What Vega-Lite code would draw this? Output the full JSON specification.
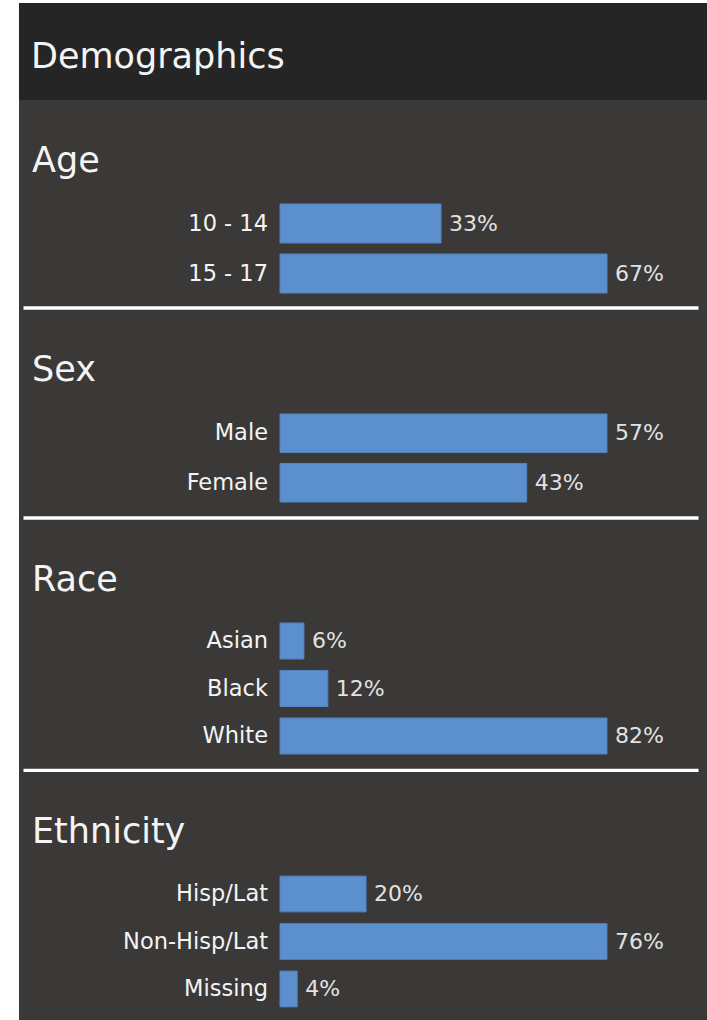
{
  "$schema": "https://vega.github.io/schema/vega-lite/v6.json",
  "background": "#ffffff",
  "padding": {"left": 19, "top": 3, "right": 0, "bottom": 0},
  "spacing": 0,
  "bounds": "flush",
  "config": {
    "view": {"stroke": null, "fill": "#3a3938"},
    "axis": {"labels": false, "ticks": false, "grid": false, "title": null},
    "title": {"font": "DejaVu Sans", "fontSize": 35, "fontWeight": "normal", "color": "#f4f4f4", "anchor": "start", "frame": "group", "baseline": "alphabetic", "dx": 13}
  },
  "data": {
    "values": [
      {"section": "Age", "category": "10 - 14", "pct": 0.33},
      {"section": "Age", "category": "15 - 17", "pct": 0.67},
      {"section": "Sex", "category": "Male", "pct": 0.57},
      {"section": "Sex", "category": "Female", "pct": 0.43},
      {"section": "Race", "category": "Asian", "pct": 0.06},
      {"section": "Race", "category": "Black", "pct": 0.12},
      {"section": "Race", "category": "White", "pct": 0.82},
      {"section": "Ethnicity", "category": "Hisp/Lat", "pct": 0.20},
      {"section": "Ethnicity", "category": "Non-Hisp/Lat", "pct": 0.76},
      {"section": "Ethnicity", "category": "Missing", "pct": 0.04}
    ]
  },
  "vconcat": [
    {
      "data": {"values": []},
      "width": 688,
      "height": 97,
      "view": {"fill": "#262525", "stroke": null},
      "title": {"text": "Demographics", "offset": -72, "dx": 12},
      "mark": "text",
      "encoding": {}
    },
    {
      "width": 688,
      "height": 210,
      "title": {"text": "Age", "offset": -79},
      "transform": [{"filter": "datum.section === 'Age'"}],
      "encoding": {
        "y": {"field": "category", "type": "nominal", "sort": null, "axis": null,
              "scale": {"range": [98.5, 198.5], "paddingInner": 0.22, "paddingOuter": 0.11}}
      },
      "layer": [
        {
          "mark": {"type": "bar", "color": "#5b8fcd", "stroke": "#5283c0", "strokeWidth": 1},
          "encoding": {
            "x": {"field": "pct", "type": "quantitative",
                  "scale": {"domain": [-0.52657, 0.85645], "range": [4, 679], "nice": false, "zero": false},
                  "axis": {"orient": "bottom", "domain": true, "domainColor": "#ffffff", "domainWidth": 3.5, "offset": -2.5}}
          }
        },
        {
          "mark": {"type": "text", "align": "right", "baseline": "middle", "dx": -12, "font": "DejaVu Sans", "fontSize": 22.5, "color": "#f4f4f4"},
          "encoding": {"x": {"datum": 0, "type": "quantitative"}, "text": {"field": "category"}}
        },
        {
          "mark": {"type": "text", "align": "left", "baseline": "middle", "dx": 8, "font": "DejaVu Sans", "fontSize": 22, "color": "#e2e2e2"},
          "encoding": {"x": {"field": "pct", "type": "quantitative"}, "text": {"field": "pct", "format": ".0%"}}
        }
      ]
    },
    {
      "width": 688,
      "height": 210,
      "title": {"text": "Sex", "offset": -78},
      "transform": [{"filter": "datum.section === 'Sex'"}],
      "encoding": {
        "y": {"field": "category", "type": "nominal", "sort": null, "axis": null,
              "scale": {"range": [98.5, 197.5], "paddingInner": 0.22, "paddingOuter": 0.11}}
      },
      "layer": [
        {
          "mark": {"type": "bar", "color": "#5b8fcd", "stroke": "#5283c0", "strokeWidth": 1},
          "encoding": {
            "x": {"field": "pct", "type": "quantitative",
                  "scale": {"domain": [-0.44798, 0.72863], "range": [4, 679], "nice": false, "zero": false},
                  "axis": {"orient": "bottom", "domain": true, "domainColor": "#ffffff", "domainWidth": 3.5, "offset": -2.5}}
          }
        },
        {
          "mark": {"type": "text", "align": "right", "baseline": "middle", "dx": -12, "font": "DejaVu Sans", "fontSize": 22.5, "color": "#f4f4f4"},
          "encoding": {"x": {"datum": 0, "type": "quantitative"}, "text": {"field": "category"}}
        },
        {
          "mark": {"type": "text", "align": "left", "baseline": "middle", "dx": 8, "font": "DejaVu Sans", "fontSize": 22, "color": "#e2e2e2"},
          "encoding": {"x": {"field": "pct", "type": "quantitative"}, "text": {"field": "pct", "format": ".0%"}}
        }
      ]
    },
    {
      "width": 688,
      "height": 252,
      "title": {"text": "Race", "offset": -78},
      "transform": [{"filter": "datum.section === 'Race'"}],
      "encoding": {
        "y": {"field": "category", "type": "nominal", "sort": null, "axis": null,
              "scale": {"range": [97.25, 239.75], "paddingInner": 0.242, "paddingOuter": 0.121}}
      },
      "layer": [
        {
          "mark": {"type": "bar", "color": "#5b8fcd", "stroke": "#5283c0", "strokeWidth": 1},
          "encoding": {
            "x": {"field": "pct", "type": "quantitative",
                  "scale": {"domain": [-0.64446, 1.0482], "range": [4, 679], "nice": false, "zero": false},
                  "axis": {"orient": "bottom", "domain": true, "domainColor": "#ffffff", "domainWidth": 3.5, "offset": -2}}
          }
        },
        {
          "mark": {"type": "text", "align": "right", "baseline": "middle", "dx": -12, "font": "DejaVu Sans", "fontSize": 22.5, "color": "#f4f4f4"},
          "encoding": {"x": {"datum": 0, "type": "quantitative"}, "text": {"field": "category"}}
        },
        {
          "mark": {"type": "text", "align": "left", "baseline": "middle", "dx": 8, "font": "DejaVu Sans", "fontSize": 22, "color": "#e2e2e2"},
          "encoding": {"x": {"field": "pct", "type": "quantitative"}, "text": {"field": "pct", "format": ".0%"}}
        }
      ]
    },
    {
      "width": 688,
      "height": 248,
      "title": {"text": "Ethnicity", "offset": -78},
      "transform": [{"filter": "datum.section === 'Ethnicity'"}],
      "encoding": {
        "y": {"field": "category", "type": "nominal", "sort": null, "axis": null,
              "scale": {"range": [98.25, 240.75], "paddingInner": 0.248, "paddingOuter": 0.124}}
      },
      "layer": [
        {
          "mark": {"type": "bar", "color": "#5b8fcd", "stroke": "#5283c0", "strokeWidth": 1},
          "encoding": {
            "x": {"field": "pct", "type": "quantitative",
                  "scale": {"domain": [-0.59731, 0.9715], "range": [4, 679], "nice": false, "zero": false},
                  "axis": null}
          }
        },
        {
          "mark": {"type": "text", "align": "right", "baseline": "middle", "dx": -12, "font": "DejaVu Sans", "fontSize": 22.5, "color": "#f4f4f4"},
          "encoding": {"x": {"datum": 0, "type": "quantitative"}, "text": {"field": "category"}}
        },
        {
          "mark": {"type": "text", "align": "left", "baseline": "middle", "dx": 8, "font": "DejaVu Sans", "fontSize": 22, "color": "#e2e2e2"},
          "encoding": {"x": {"field": "pct", "type": "quantitative"}, "text": {"field": "pct", "format": ".0%"}}
        }
      ]
    }
  ]
}
